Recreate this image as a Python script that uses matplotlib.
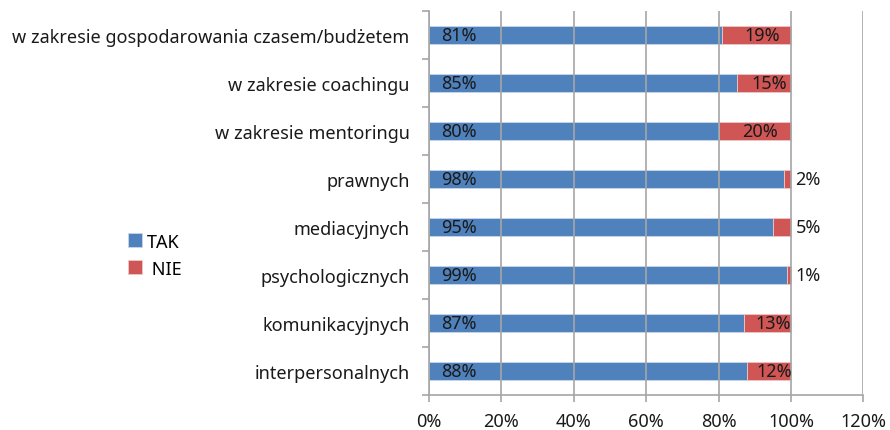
import matplotlib
matplotlib.use("Agg")
import matplotlib.pyplot as plt
from matplotlib.ticker import FuncFormatter, FixedLocator
import numpy as np

categories = [
    "w zakresie gospodarowania czasem/budżetem",
    "w zakresie coachingu",
    "w zakresie mentoringu",
    "prawnych",
    "mediacyjnych",
    "psychologicznych",
    "komunikacyjnych",
    "interpersonalnych",
]
tak = [81, 85, 80, 98, 95, 99, 87, 88]
nie = [19, 15, 20, 2, 5, 1, 13, 12]
series_names = ["TAK", "NIE"]
xticks = [0, 20, 40, 60, 80, 100, 120]

plt.rcParams['font.family'] = ['Noto Sans', 'DejaVu Sans']
FS = 13

fig = plt.figure(figsize=(8.9, 4.31), dpi=100)
ax = fig.add_axes([0.482, 0.0812, 0.488, 0.8910])

blue = "#4F81BD"
red = "#D05555"
n = len(categories)
y = np.arange(n)[::-1]
bh = 0.38

b1 = ax.barh(y, tak, height=bh, color=blue, edgecolor="#C8D8EC", linewidth=0.6,
             label=series_names[0], zorder=2)
b2 = ax.barh(y, nie, left=tak, height=bh, color=red, edgecolor="#ECC8C8", linewidth=0.6,
             label=series_names[1], zorder=2)

for yi, t, nv in zip(y, tak, nie):
    ax.text(3.3, yi, f"{t}%", ha="left", va="center", fontsize=FS, color="#1a1a1a", zorder=4)
    if nv < 10:
        ax.text(t + nv + 1.3, yi, f"{nv}%", ha="left", va="center", fontsize=FS,
                color="#1a1a1a", zorder=4)
    else:
        ax.text(t + nv / 2 + 1.5, yi, f"{nv}%", ha="center", va="center", fontsize=FS,
                color="#1a1a1a", zorder=4)

ax.set_xlim(0, 120)
ax.set_ylim(-0.5, n - 0.5)
ax.xaxis.set_major_locator(FixedLocator(xticks))
ax.xaxis.set_major_formatter(FuncFormatter(lambda v, p: f"{int(v)}%"))
ax.grid(axis="x", color="#A6A6A6", linewidth=1.2, zorder=3)
ax.set_axisbelow(False)

ax.set_yticks(y)
ax.set_yticklabels(categories, fontsize=FS, color="#1a1a1a")
ax.yaxis.set_minor_locator(FixedLocator(np.arange(-0.5, n, 1.0)))
ax.tick_params(axis="y", which="major", length=0, pad=14)
ax.tick_params(axis="y", which="minor", length=5, width=1.2, color="#A6A6A6")
ax.tick_params(axis="x", which="major", length=5, width=1.2, color="#A6A6A6",
               labelsize=FS, labelcolor="#1a1a1a", pad=7)

for s in ["top", "right"]:
    ax.spines[s].set_visible(False)
for s in ["left", "bottom"]:
    ax.spines[s].set_color("#A6A6A6")
    ax.spines[s].set_linewidth(1.2)
    ax.spines[s].set_zorder(5)

fig.legend(handles=[b1, b2], labels=["TAK", " NIE"], loc="center left",
           bbox_to_anchor=(0.125, 0.406), frameon=False, fontsize=FS,
           handlelength=0.8, handleheight=0.8, handletextpad=0.3, labelspacing=0.5)

fig.savefig("out.png", dpi=100)
